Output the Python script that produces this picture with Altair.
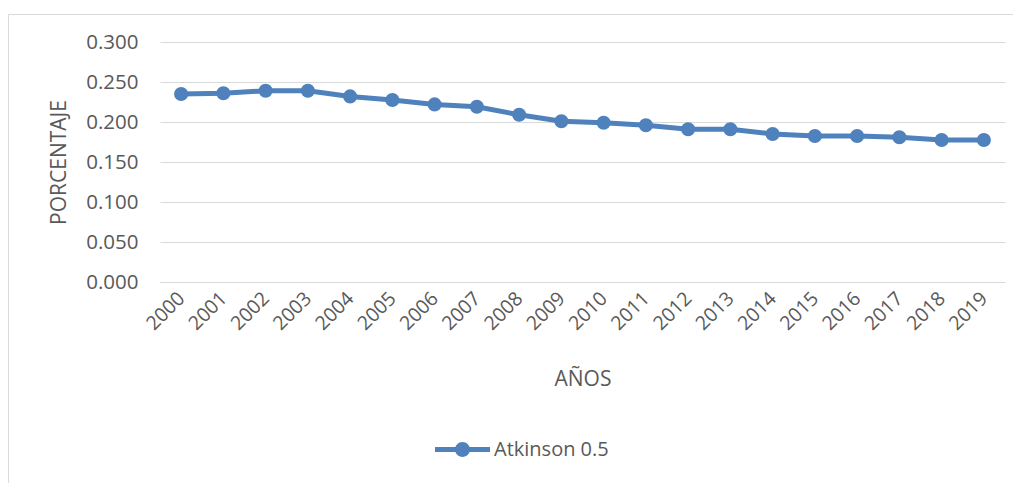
import altair as alt
import pandas as pd

years = [str(y) for y in range(2000, 2020)]
values = [0.235, 0.236, 0.239, 0.239, 0.232, 0.2275, 0.222, 0.219, 0.209, 0.201,
          0.199, 0.196, 0.191, 0.191, 0.185, 0.1825, 0.1825, 0.181, 0.1775, 0.1775]
series_name = "Atkinson 0.5"
y_ticks = [0.0, 0.05, 0.10, 0.15, 0.20, 0.25, 0.30]

df = pd.DataFrame({"year": years, "value": values, "serie": [series_name] * len(years)})

BLUE = "#4f81bd"
TXT = "#595959"
GRID = "#d9d9d9"
FONT = "Open Sans"

x_enc = alt.X("year:O", sort=years,
              axis=alt.Axis(title="AÑOS", labelAngle=-45, labelAlign="right", labelBaseline="middle",
                            labelPadding=13, labelFontSize=19.5, labelColor=TXT, labelFont=FONT,
                            ticks=False, domain=True, domainColor=GRID, grid=False,
                            titleFont=FONT, titleFontSize=21, titleColor=TXT, titleFontWeight="normal",
                            titleY=97, titleBaseline="middle"))
y_enc = alt.Y("value:Q", scale=alt.Scale(domain=[0, 0.3], nice=False, zero=True),
              axis=alt.Axis(title="PORCENTAJE", values=y_ticks, format=".3f",
                            labelFontSize=20.5, labelColor=TXT, labelFont=FONT, labelPadding=22,
                            ticks=False, domain=False, grid=True, gridColor=GRID, gridWidth=1,
                            titleFont=FONT, titleFontSize=21, titleColor=TXT, titleFontWeight="normal",
                            titleX=-101, titleY=120, titleBaseline="middle", titleAlign="center"))

border = alt.Chart(alt.Data(values=[{}])).mark_rect(
    filled=False, stroke=GRID, strokeWidth=1
).encode(x=alt.value(-151.5), x2=alt.value(860), y=alt.value(-27.5), y2=alt.value(470))

line = alt.Chart(df).mark_line(color=BLUE, strokeWidth=5).encode(x=x_enc, y=y_enc)

legend_path = ("M-1,-0.09L1,-0.09L1,0.09L-1,0.09Z "
               "M-0.27,0A0.27,0.27 0 1,1 0.27,0A0.27,0.27 0 1,1 -0.27,0Z")

points = alt.Chart(df).mark_point(filled=True, size=200, opacity=1).encode(
    x=x_enc, y=y_enc,
    color=alt.Color("serie:N", scale=alt.Scale(domain=[series_name], range=[BLUE]),
                    legend=alt.Legend(title=None, orient="none", legendX=275, legendY=380,
                                      symbolType=legend_path, symbolSize=3025,
                                      symbolStrokeWidth=0, symbolOpacity=1,
                                      labelFont=FONT, labelFontSize=20, labelColor=TXT,
                                      labelOffset=4, padding=0))
)

chart = alt.layer(border, line, points).properties(
    width=845, height=240,
    autosize=alt.AutoSizeParams(type="none"),
    padding={"left": 152, "top": 34, "right": 8, "bottom": 201},
    background="white"
).configure_view(stroke=None)

chart.save("out.html", embed_options={"renderer": "svg", "actions": False})
